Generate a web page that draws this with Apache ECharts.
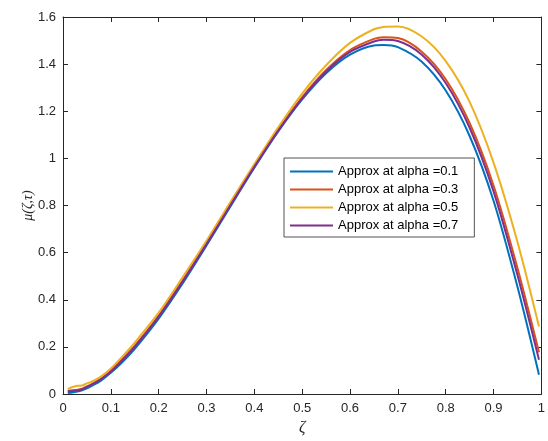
<!DOCTYPE html>
<html>
<head>
<meta charset="utf-8">
<script src="https://cdn.jsdelivr.net/npm/echarts@6/dist/echarts.min.js"></script>
<style>
  html, body { margin: 0; padding: 0; background: #fff; }
  #chart { width: 548px; height: 441px; }
</style>
</head>
<body>
<div id="chart"></div>
<script>
// Spatial coordinate samples (zeta)
const zeta = [0.01, 0.02, 0.03, 0.04, 0.05, 0.06, 0.08, 0.10, 0.12, 0.15, 0.20, 0.25, 0.30, 0.35,
              0.40, 0.45, 0.50, 0.55, 0.60, 0.65, 0.67, 0.70, 0.75, 0.80, 0.85, 0.90, 0.95, 0.995];

// Approximate solution mu(zeta, tau) for each fractional order alpha
const muAlpha01 = [0.004, 0.006, 0.010, 0.016, 0.024, 0.034, 0.058, 0.090, 0.127, 0.192, 0.320, 0.469, 0.630, 0.796,
                   0.960, 1.114, 1.250, 1.361, 1.440, 1.479, 1.481, 1.472, 1.410, 1.288, 1.095, 0.820, 0.455, 0.082];
const muAlpha03 = [0.014, 0.016, 0.018, 0.022, 0.032, 0.042, 0.066, 0.098, 0.140, 0.205, 0.333, 0.482, 0.640, 0.805,
                   0.968, 1.122, 1.260, 1.375, 1.460, 1.507, 1.514, 1.511, 1.453, 1.336, 1.150, 0.885, 0.535, 0.177];
const muAlpha05 = [0.022, 0.030, 0.035, 0.036, 0.045, 0.052, 0.075, 0.108, 0.150, 0.218, 0.345, 0.495, 0.650, 0.815,
                   0.976, 1.132, 1.275, 1.395, 1.490, 1.548, 1.558, 1.560, 1.517, 1.413, 1.240, 0.982, 0.645, 0.286];
const muAlpha07 = [0.012, 0.013, 0.015, 0.020, 0.030, 0.040, 0.063, 0.095, 0.135, 0.200, 0.328, 0.477, 0.636, 0.801,
                   0.964, 1.118, 1.255, 1.369, 1.452, 1.496, 1.503, 1.498, 1.440, 1.320, 1.130, 0.860, 0.505, 0.145];

const seriesNames = ['Approx at alpha =0.1', 'Approx at alpha =0.3', 'Approx at alpha =0.5', 'Approx at alpha =0.7'];
const seriesColors = ['#0072BD', '#D95319', '#EDB120', '#7E2F8E'];
const seriesValues = [muAlpha01, muAlpha03, muAlpha05, muAlpha07];

// Tick labels
const xTickLabels = ['0', '0.1', '0.2', '0.3', '0.4', '0.5', '0.6', '0.7', '0.8', '0.9', '1'];
const yTickLabels = ['0', '0.2', '0.4', '0.6', '0.8', '1', '1.2', '1.4', '1.6'];

const axisColor = '#262626';
const fontFamily = 'Liberation Sans, Arial, sans-serif';
const mathFont = 'Liberation Serif, Times New Roman, serif';

const chart = echarts.init(document.getElementById('chart'), null, { renderer: 'canvas' });

// Box-style axis helpers: every side gets a line and inward ticks
const makeLine = () => ({ show: true, onZero: false, lineStyle: { color: axisColor, width: 1 } });
const makeTick = () => ({ show: true, inside: true, length: 5, lineStyle: { color: axisColor, width: 1 } });

const option = {
  animation: false,
  backgroundColor: '#ffffff',
  grid: { left: 63, right: 4, top: 17, bottom: 45, containLabel: false },
  legend: {
    orient: 'vertical',
    left: 284,
    top: 158,
    padding: [7, 16, 5, 6],
    itemGap: 5,
    itemWidth: 43,
    itemHeight: 2,
    icon: 'rect',
    backgroundColor: '#ffffff',
    borderColor: '#262626',
    borderWidth: 0.8,
    textStyle: { fontFamily: fontFamily, fontSize: 13, color: '#000' },
    data: seriesNames
  },
  xAxis: [
    {
      type: 'value', min: 0, max: 1, interval: 0.1, position: 'bottom',
      name: 'ζ', nameLocation: 'middle', nameGap: 26, nameMoveOverlap: false,
      nameTextStyle: { fontFamily: mathFont, fontStyle: 'italic', fontSize: 16, color: '#262626' },
      axisLine: makeLine(), axisTick: makeTick(), splitLine: { show: false },
      axisLabel: {
        fontFamily: fontFamily, fontSize: 13, color: '#262626', margin: 8,
        formatter: (v) => xTickLabels[Math.round(v * 10)]
      }
    },
    {
      type: 'value', min: 0, max: 1, interval: 0.1, position: 'top',
      axisLine: makeLine(), axisTick: makeTick(), axisLabel: { show: false }, splitLine: { show: false }
    }
  ],
  yAxis: [
    {
      type: 'value', min: 0, max: 1.6, interval: 0.2, position: 'left',
      name: 'μ(ζ,τ)', nameLocation: 'middle', nameGap: 28, nameRotate: 90, nameMoveOverlap: false,
      nameTextStyle: { fontFamily: mathFont, fontStyle: 'italic', fontSize: 14, color: '#262626' },
      axisLine: makeLine(), axisTick: makeTick(), splitLine: { show: false },
      axisLabel: {
        fontFamily: fontFamily, fontSize: 13, color: '#262626', margin: 7,
        formatter: (v) => yTickLabels[Math.round(v * 5)]
      }
    },
    {
      type: 'value', min: 0, max: 1.6, interval: 0.2, position: 'right',
      axisLine: makeLine(), axisTick: makeTick(), axisLabel: { show: false }, splitLine: { show: false }
    }
  ],
  series: seriesNames.map((name, i) => ({
    name: name,
    type: 'line',
    xAxisIndex: 0,
    yAxisIndex: 0,
    showSymbol: false,
    smooth: 0.3,
    color: seriesColors[i],
    lineStyle: { width: 2, color: seriesColors[i] },
    data: zeta.map((z, k) => [z, seriesValues[i][k]])
  }))
};

chart.setOption(option);
</script>
</body>
</html>
